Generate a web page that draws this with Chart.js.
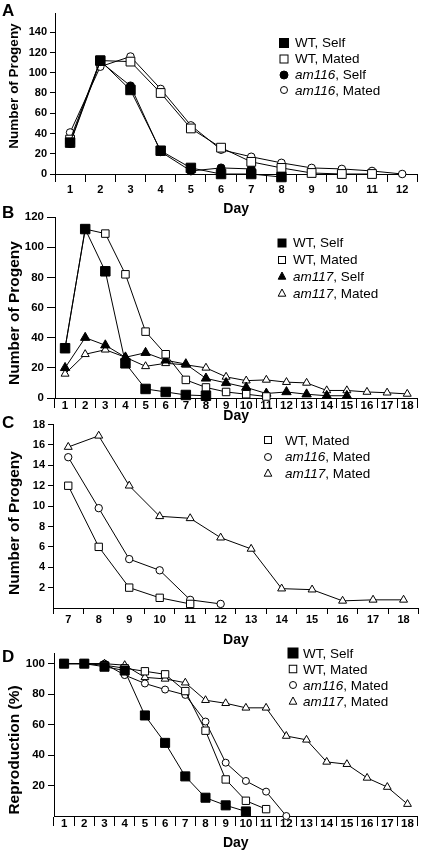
<!DOCTYPE html>
<html>
<head>
<title>Progeny per day</title>
<script src="https://cdn.jsdelivr.net/npm/chart.js@4"></script>
<style>
  body { margin: 0; background: #fff; font-family: "Liberation Sans", Arial, sans-serif; color: #000; }
  #fig { position: relative; width: 425px; height: 852px; overflow: hidden; }
  canvas { position: absolute; left: 0; }
  .letter { position: absolute; left: 2px; font-weight: bold; font-size: 17px; line-height: 1; }
  .ytitle { position: absolute; font-weight: bold; white-space: nowrap; line-height: 1;
            transform: translate(-50%, -50%) rotate(-90deg); }
  .legend { position: absolute; font-size: 13.5px; }
  .legend div { display: flex; align-items: center; white-space: nowrap; }
</style>
</head>
<body>
<div id="fig">
  <canvas id="chartA" width="425" height="220" style="top:0px"></canvas>
  <canvas id="chartB" width="425" height="220" style="top:205px"></canvas>
  <canvas id="chartC" width="425" height="235" style="top:415px"></canvas>
  <canvas id="chartD" width="425" height="212" style="top:640px"></canvas>
</div>

<script>
// ---- data ----
const daysA = ['1','2','3','4','5','6','7','8','9','10','11','12'];
const daysB = ['1','2','3','4','5','6','7','8','9','10','11','12','13','14','15','16','17','18'];
const daysC = ['7','8','9','10','11','12','13','14','15','16','17','18'];
const daysD = daysB;

const yTicksA = [0, 20, 40, 60, 80, 100, 120, 140];
const yTicksB = [0, 20, 40, 60, 80, 100, 120];
const yTicksC = [2, 4, 6, 8, 10, 12, 14, 16, 18];
const yTicksD = [20, 40, 60, 80, 100];

// panel A: progeny per day, WT vs am116
const wtSelfA     = [31, 112, 83, 23, 6, 0, 0, -3];
const wtMatedA    = [34, 112, 111, 80, 45, 26, 12, 6, 1, 0, 0];
const am116SelfA  = [30, 111, 87, 22, 3, 6, 5];
const am116MatedA = [41, 106, 116, 84, 48, 24, 17, 11, 6, 5, 3, 0];

// panel B: progeny per day, WT vs am117
const wtSelfB     = [33, 112, 84, 23, 6, 4, 2, 1.5];
const wtMatedB    = [33, 112, 109, 82, 44, 29, 12, 7, 4, 2.5, 1];
const am117SelfB  = [20, 40, 35, 27, 30, 25, 22.5, 13, 10, 7, 3, 4, 2.5, 1.5, 1.5];
const am117MatedB = [16, 29, 32, 27, 21, 23, 22, 20, 14, 11.5, 12, 10.5, 10, 5, 5, 4, 3.5, 2.7];

// panel C: late progeny (days 7-18), mated only
const wtMatedC    = [12, 6, 2, 1, 0.4];
const am116MatedC = [14.8, 9.8, 4.8, 3.7, 0.8, 0.4];
const am117MatedC = [15.8, 16.9, 12, 9, 8.8, 6.9, 5.8, 1.9, 1.8, 0.7, 0.8, 0.8];

// panel D: percent still reproducing
const wtSelfD     = [100, 100, 98, 95.5, 66, 48, 26, 12, 7, 3];
const wtMatedD    = [100, 100, 99, 97, 95, 93, 82, 56, 24, 10, 4.5];
const am116MatedD = [100, 100, 100, 92.5, 87, 83, 79.5, 62, 35, 23, 16, 0];
const am117MatedD = [100, 100, 100, 99, 91, 90, 87.5, 76, 74, 71, 71, 52.5, 50, 35.5, 34, 25, 19, 7.8];

const FONT = '"Liberation Sans", Arial, sans-serif';

function marker(style, fill, size) {
  const f = fill ? '#000' : '#fff';
  const h = size / 2;
  let shape;
  if (style === 'rect') shape = `<rect x="${5 - h}" y="${5 - h}" width="${size}" height="${size}"/>`;
  else if (style === 'circle') shape = `<circle cx="5" cy="5" r="${h}"/>`;
  else shape = `<polygon points="5,${5 - h} ${5 + h * 0.95},${5 + h * 0.8} ${5 - h * 0.95},${5 + h * 0.8}"/>`;
  return `<svg width="10" height="10" style="overflow:visible;flex:none"><g fill="${f}" stroke="#000" stroke-width="1">${shape}</g></svg>`;
}

function addText(cls, text, css) {
  const el = document.createElement('div');
  el.className = cls;
  el.textContent = text;
  Object.assign(el.style, css);
  document.getElementById('fig').appendChild(el);
}

function addLegend(p) {
  const box = document.createElement('div');
  box.className = 'legend';
  box.style.left = (p.lg.markX - 5) + 'px';
  box.style.top = (p.lg.top - p.lg.rowH / 2) + 'px';
  p.strains.forEach((s, i) => {
    const row = document.createElement('div');
    row.style.height = p.lg.rowH + 'px';
    const name = s === 'WT' ? s : `<i>${s}</i>`;
    row.innerHTML = marker(p.styles[i], p.filled[i], p.lg.sizes[i]) +
      `<span style="margin-left:${p.lg.textX - p.lg.markX - 5}px">${name}, ${p.conds[i]}</span>`;
    box.appendChild(row);
  });
  document.getElementById('fig').appendChild(box);
}

function makePanel(p) {
  const datasets = p.series.map((vals, i) => ({
    label: p.strains[i] + ', ' + p.conds[i],
    data: vals,
    borderColor: '#000',
    borderWidth: 1,
    pointStyle: p.styles[i],
    pointRadius: p.radii[i],
    pointBackgroundColor: p.filled[i] ? '#000' : '#fff',
    pointBorderColor: '#000',
    pointBorderWidth: 1,
    tension: 0,
    clip: false
  }));

  new Chart(document.getElementById(p.id), {
    type: 'line',
    data: { labels: p.days, datasets: datasets },
    options: {
      responsive: false,
      animation: false,
      layout: { padding: { top: p.padTop, right: p.padRight, left: 0, bottom: 0 } },
      plugins: { legend: { display: false }, tooltip: { enabled: false } },
      scales: {
        x: {
          type: 'category',
          offset: true,
          grid: { offset: true, drawOnChartArea: false, drawTicks: true, tickLength: p.xTick, color: '#000', lineWidth: 1 },
          border: { color: '#000', width: 1 },
          ticks: { autoSkip: false, maxRotation: 0, padding: p.xPad, color: '#000',
                   font: { family: FONT, weight: 'bold', size: p.tickSize } },
          title: { display: true, text: 'Day', color: '#000',
                   font: { family: FONT, weight: 'bold', size: 14 },
                   padding: { top: 0, bottom: p.dayPad } },
          afterFit: s => { s.height = p.xH; }
        },
        y: {
          min: p.yMin,
          max: p.yMax,
          grid: { drawOnChartArea: false, drawTicks: true, tickLength: p.yTick, color: '#000', lineWidth: 1 },
          border: { color: '#000', width: 1 },
          ticks: { padding: 3, color: '#000', font: { family: FONT, weight: 'bold', size: p.tickSize } },
          afterBuildTicks: s => { s.ticks = p.yTicks.map(v => ({ value: v })); },
          afterFit: s => { s.width = p.yW; }
        }
      }
    }
  });

  addText('letter', p.letter, { top: (p.letterY - 8) + 'px' });
  addText('ytitle', p.yTitle, { left: '14px', top: p.yTitleY + 'px', fontSize: p.yTitleSize + 'px' });
  addLegend(p);
}

makePanel({
  id: 'chartA', letter: 'A', letterY: 10, days: daysA,
  series: [wtSelfA, wtMatedA, am116SelfA, am116MatedA],
  strains: ['WT', 'WT', 'am116', 'am116'], conds: ['Self', 'Mated', 'Self', 'Mated'],
  styles: ['rect', 'rect', 'circle', 'circle'], filled: [true, false, true, false],
  radii: [6.7, 6.2, 4, 3.8],
  yMin: 0, yMax: 159, yTicks: yTicksA,
  yTitle: 'Number of Progeny', yTitleY: 86, yTitleSize: 13.5,
  padTop: 13, padRight: 3, yW: 55, xH: 46, xTick: 8, xPad: 1.5, yTick: 5, dayPad: 2, tickSize: 11,
  lg: { markX: 284, textX: 295, top: 43, rowH: 15.8, sizes: [9, 8, 8, 7] }
});

makePanel({
  id: 'chartB', letter: 'B', letterY: 212, days: daysB,
  series: [wtSelfB, wtMatedB, am117SelfB, am117MatedB],
  strains: ['WT', 'WT', 'am117', 'am117'], conds: ['Self', 'Mated', 'Self', 'Mated'],
  styles: ['rect', 'rect', 'triangle', 'triangle'], filled: [true, false, true, false],
  radii: [6.7, 5.3, 5.4, 4.6],
  yMin: 0, yMax: 120, yTicks: yTicksB,
  yTitle: 'Number of Progeny', yTitleY: 313, yTitleSize: 15.5,
  padTop: 12, padRight: 3, yW: 55, xH: 27, xTick: 10, xPad: -9, yTick: 8, dayPad: 0, tickSize: 11.5,
  lg: { markX: 282, textX: 293, top: 243, rowH: 16.7, sizes: [8, 7, 8, 8] }
});

makePanel({
  id: 'chartC', letter: 'C', letterY: 422, days: daysC,
  series: [wtMatedC, am116MatedC, am117MatedC],
  strains: ['WT', 'am116', 'am117'], conds: ['Mated', 'Mated', 'Mated'],
  styles: ['rect', 'circle', 'triangle'], filled: [false, false, false],
  radii: [5.2, 3.7, 4.6],
  yMin: 0, yMax: 18, yTicks: yTicksC,
  yTitle: 'Number of Progeny', yTitleY: 523, yTitleSize: 15.5,
  padTop: 9, padRight: 6, yW: 53, xH: 42, xTick: 6, xPad: -1, yTick: 5, dayPad: 1.6, tickSize: 11,
  lg: { markX: 268, textX: 285, top: 440, rowH: 16.5, sizes: [7, 7, 8] }
});

makePanel({
  id: 'chartD', letter: 'D', letterY: 656, days: daysD,
  series: [wtSelfD, wtMatedD, am116MatedD, am117MatedD],
  strains: ['WT', 'WT', 'am116', 'am117'], conds: ['Self', 'Mated', 'Mated', 'Mated'],
  styles: ['rect', 'rect', 'circle', 'triangle'], filled: [true, false, false, false],
  radii: [6.4, 5.2, 3.5, 4.5],
  yMin: 0, yMax: 107, yTicks: yTicksD,
  yTitle: 'Reproduction (%)', yTitleY: 750, yTitleSize: 15.5,
  padTop: 13, padRight: 4, yW: 54, xH: 36, xTick: 10, xPad: -9.5, yTick: 6, dayPad: 0.6, tickSize: 11.5,
  lg: { markX: 293, textX: 303, top: 653, rowH: 16, sizes: [10, 7.5, 7, 8] }
});
</script>
</body>
</html>
